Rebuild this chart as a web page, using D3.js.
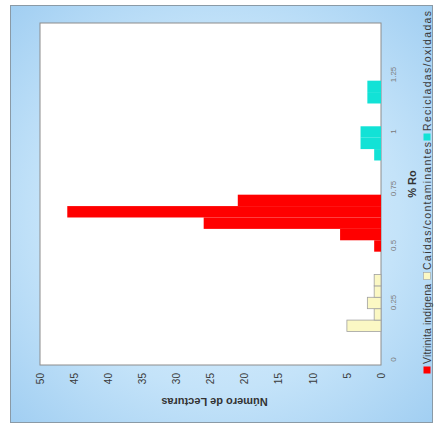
<!DOCTYPE html>
<html>
<head>
<meta charset="utf-8">
<script src="https://cdn.jsdelivr.net/npm/d3@7"></script>
<style>
  html, body { margin: 0; padding: 0; background: #ffffff; }
  svg { display: block; font-family: Arial, "Liberation Sans", sans-serif; }
</style>
</head>
<body>
<svg id="chart" width="435" height="428"></svg>
<script>
// ---- data ----
const binWidth = 0.05;
const vitriniteCenters = [0.50, 0.55, 0.60, 0.65, 0.70];
const vitriniteCounts  = [1, 6, 26, 46, 21];
const caidasCenters    = [0.15, 0.20, 0.25, 0.30, 0.35];
const caidasCounts     = [5, 1, 2, 1, 1];
const recicCenters     = [0.90, 0.95, 1.00, 1.15, 1.20];
const recicCounts      = [1, 3, 3, 2, 2];
const xTicks = [0, 0.25, 0.5, 0.75, 1, 1.25];
const xTickLabels = ["0", "0.25", "0.5", "0.75", "1", "1.25"];
const yTicks = [0, 5, 10, 15, 20, 25, 30, 35, 40, 45, 50];
const legendLabels = ["Vitrinita indígena", "Caídas/contaminantes", "Recicladas/oxidadas"];
const xTitle = "% Ro";
const yTitle = "Número de Lecturas";

const seriesColors = ["#ff0000", "#fbf8c4", "#12e2d6"];
const seriesStroke = ["none", "#a0a0a0", "none"];

const svg = d3.select("#chart");
const defs = svg.append("defs");
const grad = defs.append("radialGradient").attr("id", "bg").attr("cx", "50%").attr("cy", "50%").attr("r", "70%");
grad.append("stop").attr("offset", "0%").attr("stop-color", "#e4f3fd");
grad.append("stop").attr("offset", "60%").attr("stop-color", "#c4e3f9");
grad.append("stop").attr("offset", "100%").attr("stop-color", "#a2cff2");

// background frame (screen coordinates)
svg.append("rect").attr("x", 0).attr("y", 0).attr("width", 435).attr("height", 428).attr("fill", "#ffffff");
svg.append("rect").attr("x", 10.5).attr("y", 5.5).attr("width", 422).attr("height", 417)
  .attr("fill", "url(#bg)").attr("stroke", "#8a9aa6").attr("stroke-width", 1);

// rotated group: inner (u,v) -> screen (v, 428-u)
const g = svg.append("g").attr("transform", "translate(0,428) rotate(-90)");

const x = d3.scaleLinear().domain([-0.022, 1.478]).range([63, 405]);
const y = d3.scaleLinear().domain([0, 50]).range([381, 40]);

// plot area
g.append("rect").attr("x", x.range()[0]).attr("y", y.range()[1])
  .attr("width", x.range()[1] - x.range()[0]).attr("height", y.range()[0] - y.range()[1])
  .attr("fill", "#ffffff").attr("stroke", "#8c8c8c").attr("stroke-width", 1);

const series = [
  { centers: vitriniteCenters, counts: vitriniteCounts },
  { centers: caidasCenters, counts: caidasCounts },
  { centers: recicCenters, counts: recicCounts }
];

series.forEach((s, i) => {
  const data = s.centers.map((c, k) => ({ c, v: s.counts[k] }));
  g.append("g").selectAll("rect").data(data).join("rect")
    .attr("x", d => x(d.c - binWidth / 2))
    .attr("width", d => x(d.c + binWidth / 2) - x(d.c - binWidth / 2))
    .attr("y", d => y(d.v))
    .attr("height", d => y(0) - y(d.v))
    .attr("fill", seriesColors[i])
    .attr("stroke", seriesStroke[i])
    .attr("stroke-width", 0.8);
});

// x axis (category, % Ro)
const xAxis = d3.axisBottom(x).tickValues(xTicks).tickFormat((d, i) => xTickLabels[i]).tickSize(0).tickPadding(9);
const xg = g.append("g").attr("transform", `translate(0,${y(0)})`).call(xAxis);
xg.select(".domain").remove();
xg.selectAll("text").attr("fill", "#7a7a7a").attr("font-size", 8);

// y axis (counts)
const yAxis = d3.axisLeft(y).tickValues(yTicks).tickSize(0).tickPadding(8);
const yg = g.append("g").attr("transform", `translate(${x.range()[0]},0)`).call(yAxis);
yg.select(".domain").remove();
yg.selectAll("text").attr("fill", "#3a3a3a").attr("font-size", 10);

// titles
g.append("text").attr("x", (x.range()[0] + x.range()[1]) / 2 + 10).attr("y", 416)
  .attr("text-anchor", "middle").attr("font-size", 11).attr("font-weight", "bold").attr("fill", "#333")
  .text(xTitle);
g.append("text").attr("transform", `translate(30,${(y.range()[0] + y.range()[1]) / 2 + 4}) rotate(-90)`)
  .attr("text-anchor", "middle").attr("font-size", 11).attr("font-weight", "bold").attr("fill", "#333")
  .text(yTitle);

// legend
const legendX = [58, 152, 291];
const legendLen = [80, 128, 120];
const lg = g.append("g");
legendLabels.forEach((lab, i) => {
  lg.append("rect").attr("x", legendX[i] - 3.5).attr("y", 423.5).attr("width", 7).attr("height", 7)
    .attr("fill", seriesColors[i]).attr("stroke", seriesStroke[i]).attr("stroke-width", 0.6);
  lg.append("text").attr("x", legendX[i] + 6).attr("y", 431).attr("font-size", 10.5).attr("fill", "#3a3a3a")
    .attr("textLength", legendLen[i]).attr("lengthAdjust", "spacing")
    .text(lab);
});
</script>
</body>
</html>
